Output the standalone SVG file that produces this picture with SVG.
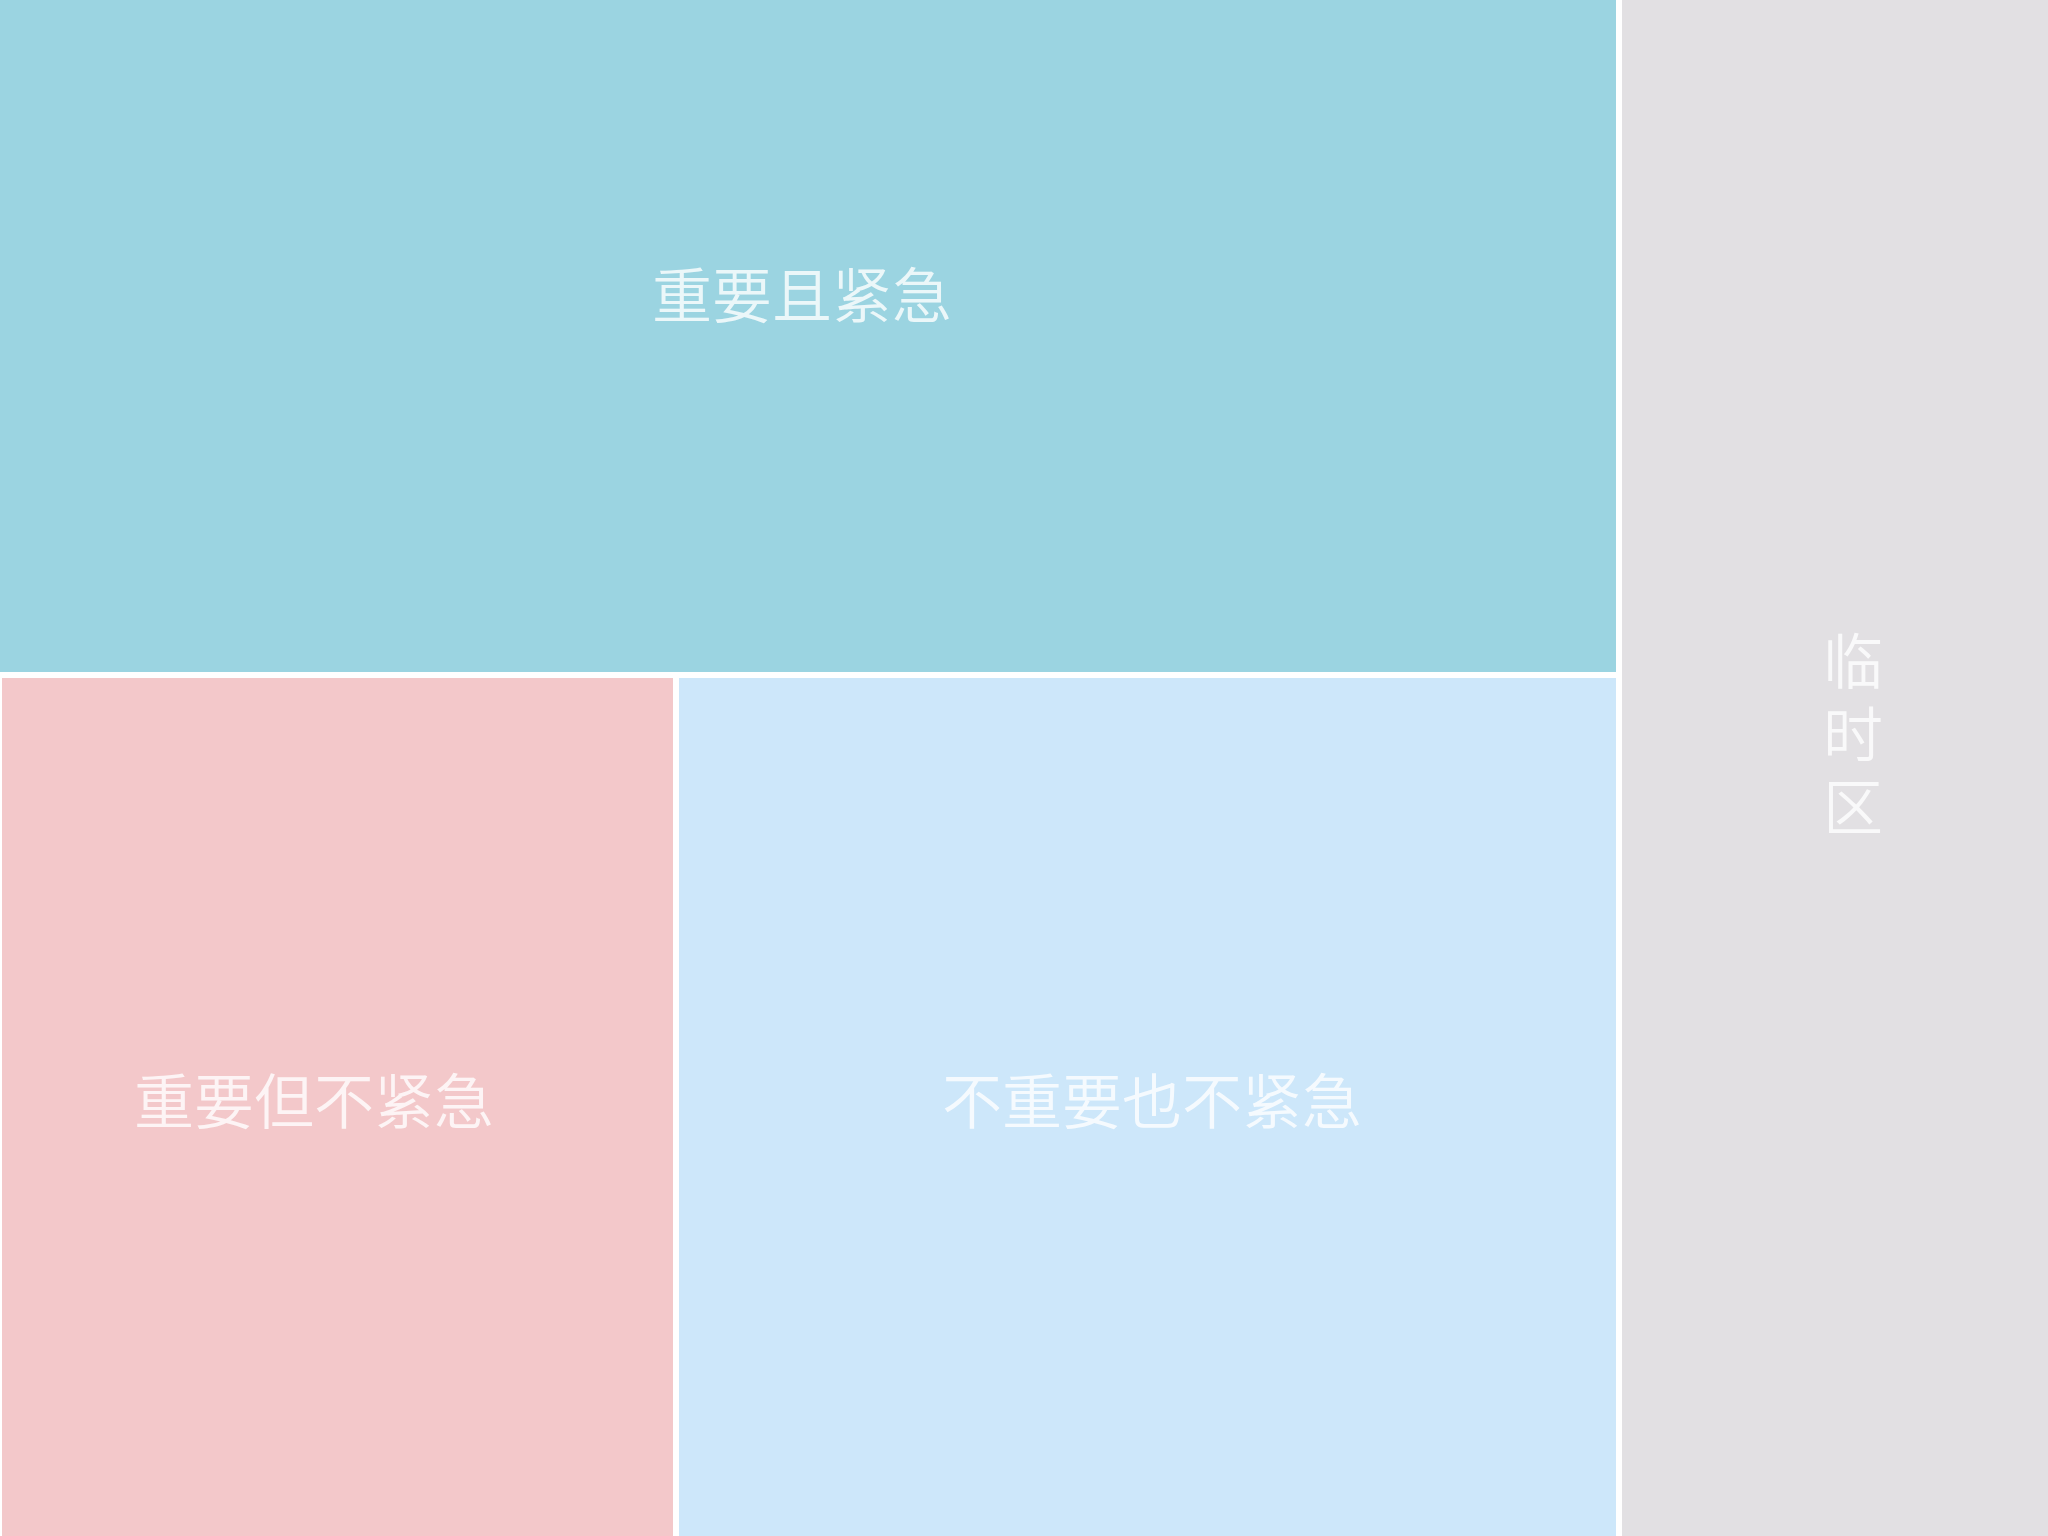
<svg xmlns="http://www.w3.org/2000/svg" width="2048" height="1536" viewBox="0 0 2048 1536">
<style>
.lbl{font-family:"Noto Sans CJK SC","Noto Sans",sans-serif;font-size:60px;font-weight:350;fill:#ffffff;fill-opacity:0.8;text-anchor:middle}
</style>
<rect x="0" y="0" width="2048" height="1536" fill="#ffffff"/>
<g id="q1">
<rect x="0" y="0" width="1616" height="672" fill="#9BD4E1"/>
<text class="lbl" x="802" y="318">重要且紧急</text>
</g>
<g id="q2">
<rect x="2" y="678" width="671" height="858" fill="#F3C8CA"/>
<text class="lbl" x="314" y="1124">重要但不紧急</text>
</g>
<g id="q3">
<rect x="679" y="678" width="937" height="858" fill="#CDE7FA"/>
<text class="lbl" x="1152" y="1124">不重要也不紧急</text>
</g>
<g id="temp">
<rect x="1622" y="0" width="426" height="1536" fill="#E2E0E3"/>
<text class="lbl" x="1853" y="684">临<tspan x="1853" dy="73">时</tspan><tspan x="1853" dy="73">区</tspan></text>
</g>
<g id="connectors"></g>
</svg>
